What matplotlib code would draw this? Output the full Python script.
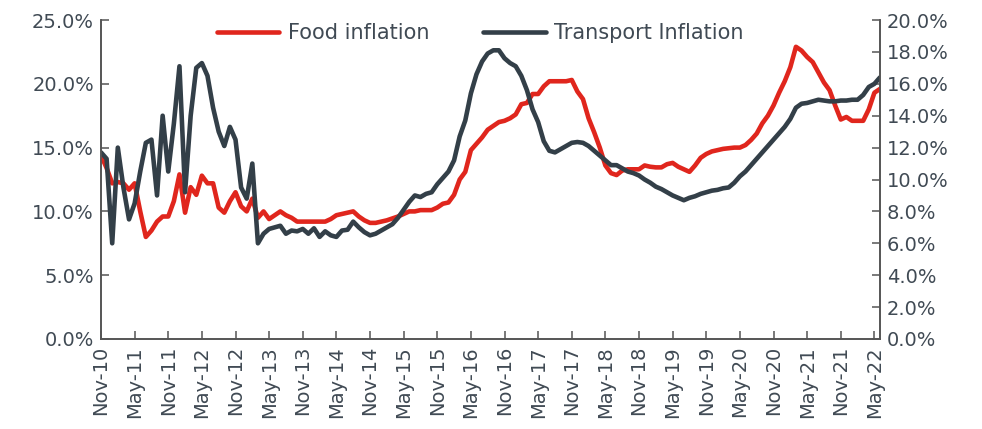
import matplotlib
matplotlib.use("Agg")
import matplotlib.pyplot as plt
import pandas as pd
from matplotlib.ticker import FuncFormatter, MultipleLocator

months = pd.date_range("2010-11-01", periods=140, freq="MS").strftime("%b-%y").tolist()

food = [14.4, 13.4, 12.2, 12.3, 12.2, 11.7, 12.2, 10.0, 8.0, 8.5,
        9.2, 9.6, 9.6, 10.8, 12.9, 9.9, 11.9, 11.3, 12.8, 12.2,
        12.2, 10.3, 9.9, 10.8, 11.5, 10.4, 10.0, 11.0, 9.5, 10.0,
        9.4, 9.7, 10.0, 9.7, 9.5, 9.2, 9.2, 9.2, 9.2, 9.2,
        9.2, 9.4, 9.7, 9.8, 9.9, 10.0, 9.6, 9.3, 9.1, 9.1,
        9.2, 9.3, 9.45, 9.6, 9.8, 10.0, 10.0, 10.1, 10.1, 10.1,
        10.3, 10.6, 10.7, 11.3, 12.5, 13.1, 14.8, 15.3, 15.8, 16.4,
        16.7, 17.0, 17.1, 17.3, 17.6, 18.4, 18.5, 19.2, 19.2, 19.8,
        20.2, 20.2, 20.2, 20.2, 20.3, 19.4, 18.8, 17.3, 16.2, 15.0,
        13.6, 13.0, 12.85, 13.2, 13.3, 13.3, 13.3, 13.6, 13.5, 13.45,
        13.45, 13.7, 13.8, 13.5, 13.3, 13.1, 13.6, 14.2, 14.5, 14.7,
        14.8, 14.9, 14.95, 15.0, 15.0, 15.2, 15.6, 16.1, 16.9, 17.5,
        18.3, 19.3, 20.2, 21.3, 22.9, 22.6, 22.1, 21.7, 20.9, 20.1,
        19.5, 18.3, 17.2, 17.4, 17.1, 17.1, 17.1, 18.0, 19.3, 19.6]

transport = [11.7, 11.3, 6.0, 12.0, 9.5, 7.5, 8.5, 10.5, 12.3, 12.5,
             9.0, 14.0, 10.5, 13.5, 17.1, 9.2, 14.0, 17.0, 17.3, 16.5,
             14.5, 13.0, 12.1, 13.3, 12.5, 9.5, 8.8, 11.0, 6.0, 6.6,
             6.9, 7.0, 7.1, 6.6, 6.8, 6.75, 6.9, 6.6, 6.94, 6.4,
             6.75, 6.5, 6.4, 6.8, 6.85, 7.36, 7.0, 6.7, 6.5, 6.6,
             6.8, 7.0, 7.2, 7.6, 8.1, 8.6, 9.0, 8.9, 9.1, 9.2,
             9.7, 10.1, 10.5, 11.2, 12.7, 13.7, 15.4, 16.6, 17.4, 17.9,
             18.1, 18.1, 17.6, 17.3, 17.1, 16.5, 15.6, 14.4, 13.6, 12.4,
             11.8, 11.7, 11.9, 12.1, 12.3, 12.35, 12.3, 12.1, 11.8, 11.5,
             11.2, 10.9, 10.9, 10.7, 10.5, 10.4, 10.25, 10.0, 9.8, 9.55,
             9.4, 9.2, 9.0, 8.85, 8.7, 8.85, 8.95, 9.1, 9.2, 9.3,
             9.35, 9.45, 9.5, 9.8, 10.2, 10.5, 10.9, 11.3, 11.7, 12.1,
             12.5, 12.9, 13.3, 13.8, 14.5, 14.75, 14.8, 14.9, 15.0, 14.95,
             14.9, 14.9, 14.95, 14.95, 15.0, 15.0, 15.3, 15.8, 16.0, 16.4]

RED = "#E0261D"
DARK = "#333F48"
TXT = "#404A54"
SPINE = "#555555"

plt.rcParams["font.family"] = ["DejaVu Sans"]

fig = plt.figure(figsize=(9.82, 4.29), dpi=100)
ax = fig.add_axes([101/982, 1-339/429, 779/982, 319/429])
ax2 = ax.twinx()

x = list(range(len(months)))
l1, = ax.plot(x, food, color=RED, lw=3.3, solid_joinstyle="round", solid_capstyle="round", label="Food inflation", zorder=3)
l2, = ax2.plot(x, transport, color=DARK, lw=3.3, solid_joinstyle="round", solid_capstyle="round", label="Transport Inflation", zorder=2)

ax.set_xlim(0, len(months) - 1)
ax.set_ylim(0, 25)
ax2.set_ylim(0, 20)
ax.yaxis.set_major_locator(MultipleLocator(5))
ax2.yaxis.set_major_locator(MultipleLocator(2))
ax.yaxis.set_major_formatter(FuncFormatter(lambda v, p: f"{v:.1f}%"))
ax2.yaxis.set_major_formatter(FuncFormatter(lambda v, p: f"{v:.1f}%"))

tick_pos = x[::6]
ax.set_xticks(tick_pos)
ax.set_xticklabels([months[i] for i in tick_pos], rotation=90)

for a in (ax, ax2):
    a.spines["top"].set_visible(False)
    for s in ("left", "right", "bottom"):
        a.spines[s].set_color(SPINE)
        a.spines[s].set_linewidth(1.2)
    a.tick_params(direction="in", length=6, width=1.1, color=SPINE, labelcolor=TXT, labelsize=14)
ax.tick_params(axis="y", pad=5)
ax2.tick_params(axis="y", pad=5)
ax.tick_params(axis="x", pad=5)

leg = ax.legend(handles=[l1, l2], loc="center", bbox_to_anchor=(0.487, 0.958), ncol=2, frameon=False,
                fontsize=15, handlelength=3.0, handletextpad=0.4, columnspacing=2.6, borderaxespad=0)
for t in leg.get_texts():
    t.set_color(TXT)

fig.savefig("out.png", dpi=100)
